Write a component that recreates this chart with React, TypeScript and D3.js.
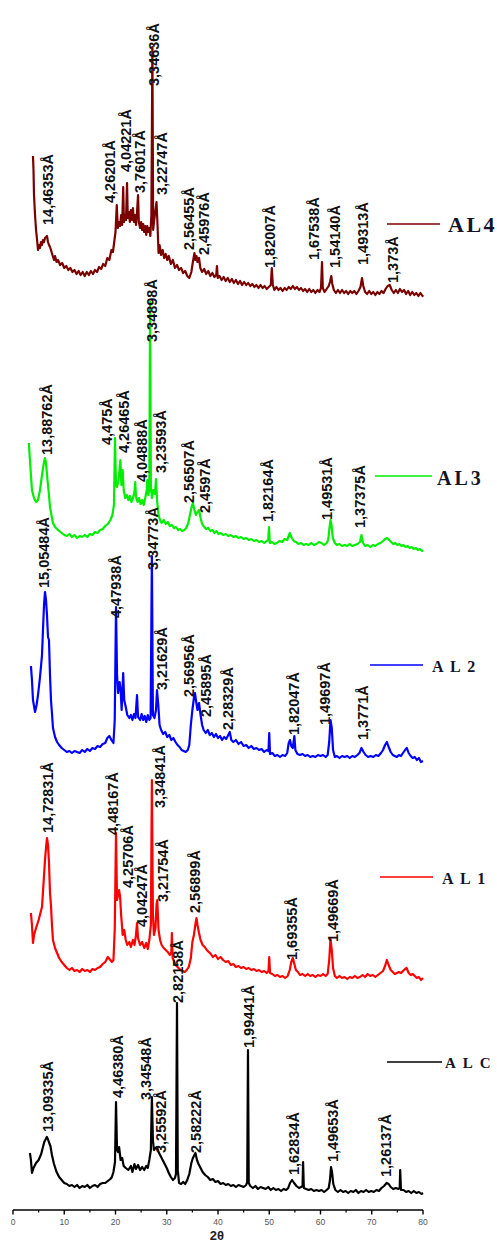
import React from "react";
import * as d3 from "d3";

type P = [number, number];
type L = [string, number, number];

const SERIES_NAMES = ["ALC", "AL1", "AL2", "AL3", "AL4"];
const SERIES_OFFSETS = [0, 220, 440, 650, 905];
const SERIES_COLORS = ["#000000", "#ff0000", "#0000ff", "#00ee00", "#7b0000"];
const X_TICKS = [0, 10, 20, 30, 40, 50, 60, 70, 80];
const X_MINOR = [5, 15, 25, 35, 45, 55, 65, 75];

const ALC: P[] = [[3.3,57],[3.5,50],[3.7,37],[4.0,42],[4.5,47],[5.0,50],[5.5,56],[5.8,62],[6.1,68],[6.4,71],[6.6,73],[6.8,71],[7.0,68],[7.3,64],[7.6,55],[8.0,46],[8.5,38],[9.0,33],[9.5,30],[10,27],[10.5,26],[11,24],[11.5,25],[12,23],[12.5,25],[13,22],[13.5,24],[14,23],[14.5,25],[15,22],[15.5,24],[16,25],[16.5,23],[17,26],[17.5,27],[18,27],[18.5,29],[19,31],[19.3,33],[19.6,38],[19.9,48],[20.1,108],[20.3,60],[20.5,58],[20.7,63],[21.0,50],[21.3,52],[21.6,44],[22.0,42],[22.5,40],[23.0,44],[23.3,38],[23.7,46],[24.0,41],[24.4,45],[24.8,40],[25.2,43],[25.6,40],[26.0,44],[26.3,42],[26.6,50],[26.9,60],[27.1,113],[27.3,70],[27.5,60],[27.8,62],[28.1,63],[28.4,58],[28.8,54],[29.2,50],[29.6,46],[30.0,42],[30.4,37],[30.8,33],[31.2,30],[31.6,32],[31.8,36],[32.0,207],[32.15,40],[32.4,27],[32.8,26],[33.2,28],[33.6,26],[34.0,30],[34.4,36],[34.8,47],[35.1,52],[35.4,55],[35.6,57],[35.9,50],[36.2,46],[36.6,42],[37.0,38],[37.5,35],[38.0,33],[38.5,30],[39.0,31],[39.5,28],[40.0,29],[40.5,26],[41,27],[41.5,25],[42,26],[42.5,24],[43,25],[43.5,23],[44,25],[44.5,24],[45,23],[45.5,25],[45.7,28],[45.85,160],[46.0,27],[46.3,24],[46.8,22],[47.3,24],[47.8,21],[48.3,23],[48.8,22],[49.3,21],[49.8,23],[50.3,20],[50.8,22],[51.3,20],[51.8,21],[52.3,19],[52.8,21],[53.3,20],[53.7,22],[54.05,27],[54.45,30],[54.85,27],[55.3,24],[55.8,22],[56.2,23],[56.5,24],[56.6,48],[56.75,22],[57.2,21],[57.7,20],[58.2,21],[58.7,19],[59.2,20],[59.7,19],[60.2,20],[60.7,18],[61.2,20],[61.6,22],[61.85,30],[62.05,43],[62.25,38],[62.5,26],[62.9,20],[63.4,18],[63.9,20],[64.4,18],[64.9,19],[65.4,17],[65.9,19],[66.4,18],[66.9,20],[67.4,17],[67.9,19],[68.4,18],[68.9,20],[69.4,18],[69.9,19],[70.4,18],[70.9,20],[71.4,19],[71.9,22],[72.4,24],[72.9,27],[73.3,26],[73.7,23],[74.2,21],[74.7,22],[75.2,21],[75.45,22],[75.55,40],[75.7,20],[76.2,20],[76.7,18],[77.2,19],[77.7,17],[78.2,19],[78.7,17],[79.2,18],[79.7,16],[80.0,17]];

const AL1: P[] = [[3.5,77],[3.7,65],[3.9,47],[4.1,55],[4.5,62],[5.0,70],[5.5,80],[5.66,83],[6.0,110],[6.24,130],[6.44,142],[6.63,152],[6.83,145],[7.02,128],[7.22,97],[7.41,85],[7.6,65],[7.8,50],[8.2,42],[8.6,37],[9.0,32],[9.5,28],[10,25],[10.5,22],[11,20],[11.5,22],[12,19],[12.5,20],[13,18],[13.5,21],[14,19],[14.5,20],[15,18],[15.5,21],[16,20],[16.5,22],[17,23],[17.5,26],[18,28],[18.5,33],[19,30],[19.3,28],[19.6,30],[19.85,60],[20.1,157],[20.3,90],[20.5,95],[20.7,100],[20.9,93],[21.1,75],[21.4,55],[21.7,60],[22.0,50],[22.3,45],[22.7,48],[23.0,43],[23.4,50],[23.7,45],[24.0,55],[24.2,67],[24.4,52],[24.8,45],[25.2,48],[25.6,42],[26.0,47],[26.3,41],[26.6,50],[26.9,65],[27.1,210],[27.3,75],[27.5,55],[27.8,62],[28.0,85],[28.15,90],[28.4,60],[28.7,50],[29.0,45],[29.4,42],[29.8,40],[30.2,38],[30.6,35],[30.9,38],[31.0,57],[31.15,32],[31.5,28],[31.9,24],[32.3,22],[32.7,20],[33.1,19],[33.5,18],[33.9,20],[34.3,23],[34.7,32],[35.0,48],[35.3,55],[35.6,66],[35.8,72],[36.0,65],[36.3,57],[36.6,50],[37.0,45],[37.4,43],[37.8,40],[38.2,38],[38.6,36],[39.0,33],[39.5,35],[40.0,31],[40.5,33],[41,30],[41.5,28],[42,29],[42.5,25],[43,26],[43.5,23],[44,24],[44.5,22],[45,23],[45.5,21],[46,22],[46.5,20],[47,21],[47.5,19],[48,20],[48.5,18],[49,19],[49.5,17],[49.85,19],[50.0,33],[50.15,17],[50.6,16],[51.1,14],[51.6,15],[52.1,13],[52.6,14],[53.1,12],[53.6,14],[54.0,20],[54.3,28],[54.6,32],[54.9,26],[55.2,20],[55.6,18],[56,15],[56.5,16],[57,14],[57.5,16],[58,14],[58.5,15],[59,13],[59.5,15],[60,14],[60.5,16],[61,14],[61.4,16],[61.7,30],[61.95,51],[62.2,40],[62.45,22],[62.8,14],[63.2,12],[63.7,14],[64.2,12],[64.7,13],[65.2,11],[65.7,13],[66.2,12],[66.7,14],[67.2,12],[67.7,13],[68.2,15],[68.7,13],[69.2,16],[69.7,14],[70.2,15],[70.7,13],[71.2,15],[71.7,17],[72.2,19],[72.6,24],[72.95,30],[73.3,25],[73.7,20],[74.1,18],[74.5,16],[74.9,17],[75.3,18],[75.7,17],[76.1,19],[76.5,21],[76.8,22],[77.2,17],[77.6,15],[78.0,16],[78.4,14],[78.8,12],[79.2,13],[79.6,10],[80.0,12]];

const AL2: P[] = [[3.5,104],[3.7,90],[3.9,70],[4.3,58],[4.6,65],[4.88,75],[5.27,93],[5.66,115],[5.85,140],[6.05,165],[6.24,178],[6.44,170],[6.63,155],[6.83,133],[7.02,130],[7.22,95],[7.41,70],[7.6,57],[7.8,42],[8.2,33],[8.6,28],[9.0,25],[9.5,22],[10,20],[10.5,18],[11,19],[11.5,17],[12,19],[12.5,18],[13,17],[13.5,20],[14,18],[14.5,21],[15,19],[15.5,22],[16,21],[16.5,24],[17,23],[17.5,26],[18,27],[18.4,32],[18.8,34],[19.2,30],[19.6,27],[19.85,50],[20.1,163],[20.3,95],[20.5,77],[20.8,88],[21.0,80],[21.2,60],[21.5,97],[21.7,70],[22.0,63],[22.3,55],[22.7,52],[23.0,55],[23.3,50],[23.6,56],[23.9,52],[24.2,75],[24.4,53],[24.8,50],[25.1,56],[25.4,50],[25.7,54],[26.0,48],[26.3,55],[26.6,50],[26.85,52],[27.1,214],[27.3,55],[27.6,52],[27.9,60],[28.1,80],[28.35,65],[28.6,45],[28.9,40],[29.3,36],[29.7,38],[30.1,33],[30.5,35],[30.9,30],[31.3,32],[31.7,28],[32.1,25],[32.5,23],[32.9,20],[33.3,19],[33.7,18],[34.1,20],[34.4,25],[34.7,45],[35.0,60],[35.3,72],[35.5,77],[35.75,68],[36.0,60],[36.3,67],[36.6,55],[36.9,45],[37.2,40],[37.6,37],[38.0,40],[38.4,35],[38.8,37],[39.2,33],[39.6,36],[40.0,32],[40.4,34],[40.8,30],[41.2,33],[41.6,31],[42.0,35],[42.3,38],[42.6,30],[43.0,28],[43.5,30],[44.0,26],[44.5,28],[45.0,24],[45.5,25],[46.0,22],[46.5,24],[47.0,21],[47.5,22],[48.0,20],[48.5,21],[49.0,18],[49.5,20],[49.85,19],[50.0,37],[50.15,16],[50.6,17],[51.1,14],[51.6,15],[52.1,13],[52.6,15],[53.1,14],[53.5,17],[53.8,27],[54.05,30],[54.3,24],[54.6,22],[54.9,34],[55.1,20],[55.5,16],[56,15],[56.5,16],[57,14],[57.5,15],[58,13],[58.5,14],[59,13],[59.5,15],[60,14],[60.5,15],[61,13],[61.4,15],[61.7,28],[61.95,50],[62.2,42],[62.45,20],[62.8,13],[63.2,14],[63.7,12],[64.2,14],[64.7,13],[65.2,14],[65.7,12],[66.2,14],[66.7,13],[67.2,15],[67.6,17],[68.0,22],[68.4,18],[68.8,15],[69.3,13],[69.8,14],[70.3,13],[70.8,15],[71.3,14],[71.8,17],[72.2,20],[72.6,25],[72.95,28],[73.3,23],[73.7,18],[74.1,15],[74.5,14],[74.9,13],[75.3,15],[75.7,14],[76.1,17],[76.5,20],[76.85,22],[77.2,17],[77.6,14],[78.0,12],[78.4,13],[78.8,10],[79.2,12],[79.6,8],[80.0,9]];

const AL3: P[] = [[3.1,117],[3.3,100],[3.5,85],[3.7,70],[4.1,62],[4.5,58],[4.88,60],[5.27,70],[5.66,85],[6.05,98],[6.24,102],[6.44,97],[6.73,80],[7.02,65],[7.22,53],[7.5,45],[7.8,37],[8.2,33],[8.8,30],[9.5,27],[10,25],[10.5,24],[11,26],[11.5,23],[12,25],[12.5,22],[13,24],[13.5,23],[14,25],[14.5,23],[15,26],[15.5,25],[16,28],[16.5,27],[17,30],[17.5,31],[18,34],[18.5,36],[19,40],[19.4,45],[19.7,55],[19.9,122],[20.1,75],[20.3,73],[20.6,80],[20.95,100],[21.15,75],[21.4,90],[21.6,70],[21.9,62],[22.2,65],[22.5,60],[22.8,64],[23.1,58],[23.4,62],[23.7,68],[23.85,78],[24.0,63],[24.3,58],[24.6,62],[24.9,56],[25.2,60],[25.5,55],[25.8,62],[26.1,70],[26.2,80],[26.4,65],[26.6,70],[26.75,258],[26.9,75],[27.1,62],[27.4,70],[27.7,66],[27.9,81],[28.1,60],[28.4,45],[28.7,40],[29.0,37],[29.4,40],[29.8,36],[30.2,38],[30.6,34],[31.0,35],[31.4,32],[31.8,33],[32.2,30],[32.6,31],[33.0,29],[33.4,30],[33.8,32],[34.2,37],[34.6,47],[34.9,54],[35.1,57],[35.4,50],[35.7,45],[36.0,48],[36.3,50],[36.6,42],[36.9,36],[37.3,33],[37.7,31],[38.1,32],[38.5,29],[38.9,30],[39.3,27],[39.7,29],[40.1,26],[40.5,27],[41,25],[41.5,26],[42,24],[42.5,25],[43,23],[43.5,24],[44,22],[44.5,23],[45,21],[45.5,22],[46,20],[46.5,21],[47,19],[47.5,20],[48,18],[48.5,19],[49,17],[49.5,19],[49.8,20],[49.95,33],[50.1,17],[50.5,18],[51,16],[51.5,17],[52,19],[52.5,18],[53,21],[53.5,20],[54,27],[54.4,22],[54.8,19],[55.2,18],[55.7,16],[56.2,17],[56.7,15],[57.2,16],[57.7,15],[58.2,17],[58.7,15],[59.2,16],[59.7,18],[60.2,17],[60.7,15],[61.2,17],[61.5,20],[61.75,32],[61.95,40],[62.15,35],[62.4,22],[62.8,17],[63.2,15],[63.7,16],[64.2,14],[64.7,15],[65.2,14],[65.7,16],[66.2,14],[66.7,15],[67.2,16],[67.7,18],[68.0,25],[68.3,17],[68.7,14],[69.2,15],[69.7,13],[70.2,15],[70.7,14],[71.2,16],[71.7,17],[72.2,19],[72.6,21],[73.0,22],[73.4,20],[73.8,18],[74.2,16],[74.6,17],[75.0,15],[75.4,16],[75.8,14],[76.2,15],[76.6,13],[77.0,14],[77.4,12],[77.8,13],[78.2,11],[78.6,12],[79.0,10],[79.4,11],[79.8,9],[80,10]];

const AL4: P[] = [[3.9,149],[4.0,135],[4.1,110],[4.3,90],[4.5,75],[4.7,65],[4.88,55],[5.07,60],[5.27,57],[5.46,63],[5.66,60],[5.85,65],[6.05,63],[6.24,67],[6.44,68],[6.63,69],[6.83,63],[7.02,60],[7.22,58],[7.41,55],[7.7,50],[8.0,45],[8.2,49],[8.5,43],[8.8,45],[9.2,40],[9.6,42],[10.0,37],[10.4,39],[10.8,35],[11.2,37],[11.6,33],[12.0,35],[12.4,31],[12.8,34],[13.2,30],[13.6,33],[14.0,29],[14.4,33],[14.8,30],[15.2,34],[15.6,31],[16.0,35],[16.4,33],[16.8,38],[17.2,36],[17.6,41],[18.0,39],[18.4,47],[18.8,45],[19.2,55],[19.5,53],[19.8,65],[20.0,73],[20.25,100],[20.45,77],[20.7,83],[20.9,79],[21.1,90],[21.3,80],[21.5,118],[21.65,83],[21.85,90],[22.05,85],[22.25,122],[22.4,87],[22.6,93],[22.8,83],[23.0,95],[23.2,85],[23.4,97],[23.6,83],[23.8,90],[24.0,80],[24.2,93],[24.4,110],[24.55,83],[24.8,77],[25.0,83],[25.2,75],[25.4,81],[25.6,73],[25.8,79],[26.0,70],[26.2,79],[26.4,73],[26.6,77],[26.8,69],[27.0,90],[27.2,258],[27.35,75],[27.55,85],[27.8,95],[28.0,103],[28.2,80],[28.4,52],[28.6,60],[28.9,50],[29.2,55],[29.5,47],[29.8,51],[30.1,45],[30.4,49],[30.8,41],[31.2,45],[31.6,37],[32.0,40],[32.4,35],[32.8,37],[33.2,32],[33.6,34],[34.0,29],[34.4,27],[34.8,33],[35.1,43],[35.4,52],[35.6,45],[35.8,49],[36.0,43],[36.3,47],[36.55,37],[36.9,33],[37.3,36],[37.7,31],[38.1,34],[38.5,29],[38.9,32],[39.3,28],[39.65,30],[39.8,39],[39.95,27],[40.3,29],[40.7,25],[41.1,28],[41.5,24],[41.9,27],[42.3,23],[42.7,26],[43.1,22],[43.5,25],[43.9,21],[44.3,24],[44.7,20],[45.1,23],[45.5,20],[45.9,22],[46.3,19],[46.7,21],[47.1,18],[47.5,20],[47.9,17],[48.3,20],[48.7,17],[49.1,19],[49.5,16],[49.9,18],[50.3,20],[50.5,37],[50.7,20],[51.0,15],[51.4,18],[51.8,15],[52.2,17],[52.6,14],[53.0,17],[53.4,15],[53.8,18],[54.2,16],[54.6,19],[55.0,16],[55.4,18],[55.8,15],[56.2,17],[56.6,14],[57.0,16],[57.4,13],[57.8,16],[58.2,13],[58.6,15],[59.0,12],[59.4,15],[59.8,13],[60.1,17],[60.3,43],[60.45,17],[60.8,13],[61.2,16],[61.6,19],[61.85,23],[62.1,29],[62.3,21],[62.6,15],[63.0,12],[63.4,15],[63.8,12],[64.2,15],[64.6,12],[65.0,14],[65.4,11],[65.8,14],[66.2,12],[66.6,14],[67.0,11],[67.4,14],[67.8,18],[68.1,27],[68.35,19],[68.7,13],[69.1,11],[69.5,14],[69.9,11],[70.3,13],[70.7,10],[71.1,13],[71.5,11],[71.9,14],[72.3,12],[72.7,16],[73.1,19],[73.5,20],[73.9,15],[74.3,12],[74.7,15],[75.1,12],[75.5,16],[75.9,13],[76.3,15],[76.7,11],[77.1,14],[77.5,10],[77.9,13],[78.3,10],[78.7,12],[79.1,9],[79.5,12],[79.9,9],[80.0,10]];

const SERIES_DATA: P[][] = [ALC, AL1, AL2, AL3, AL4];

const LABELS_ALC: L[] = [["13,09335Å",6.83,78],["4,46380Å",20.49,112],["3,34548Å",25.95,110],["3,25592Å",28.88,57],["2,82158Å",32.2,207],["2,58222Å",35.71,57],["1,99441Å",46.05,162],["1,62834Å",54.83,35],["1,49653Å",62.44,48],["1,26137Å",72.78,33]];
const LABELS_AL1: L[] = [["14,72831Å",6.83,157],["4,48167Å",19.51,155],["3,34841Å",28.68,182],["4,25706Å",22.44,102],["4,04247Å",25.17,63],["3,21754Å",29.27,88],["2,56899Å",35.51,77],["1,69355Å",54.44,30],["1,49669Å",62.44,48]];
const LABELS_AL2: L[] = [["15,05484Å",6.05,182],["4,47938Å",20.1,152],["3,34773Å",27.32,200],["3,21629Å",29.07,80],["2,56956Å",34.34,73],["2,45895Å",37.66,53],["2,28329Å",41.95,40],["1,82047Å",54.83,35],["1,49697Å",60.88,45],["1,3771Å",68.29,30]];
const LABELS_AL3: L[] = [["13,88762Å",6.63,105],["4,475Å",18.34,115],["4,26465Å",21.66,107],["4,04888Å",25.17,78],["3,34898Å",27.02,218],["3,23593Å",28.88,87],["2,56507Å",34.34,57],["2,4597Å",37.46,47],["1,82164Å",49.76,38],["1,49531Å",61.27,40],["1,37375Å",67.71,32]];
const LABELS_AL4: L[] = [["14,46353Å",6.83,80],["4,26201Å",18.93,102],["4,04221Å",22.05,133],["3,76017Å",24.78,112],["3,34636Å",27.51,219],["3,22747Å",29.07,110],["2,56455Å",34.34,55],["2,45976Å",37.27,50],["1,82007Å",50.15,37],["1,67538Å",58.73,45],["1,54140Å",62.83,37],["1,49313Å",68.29,40],["1,373Å",74.15,22]];
const SERIES_LABELS: L[][] = [LABELS_ALC, LABELS_AL1, LABELS_AL2, LABELS_AL3, LABELS_AL4];

// legend layout: [lineX1, lineX2, lineY, textX, textBaseline, fontSize, letterSpacing]
const LEGEND_LAYOUT: number[][] = [
  [387, 442, 1062, 445, 1068, 15, 7],
  [380, 433, 877, 442, 884, 16, 6.5],
  [370, 423, 665, 432, 672, 16, 6.5],
  [375, 432, 476, 437, 485, 20, 3],
  [387, 440, 224, 448, 232, 22, 2.5],
];

export default function App() {
  const W = 497, H = 1245;
  const x = d3.scaleLinear().domain([0, 80]).range([13, 423]);
  const y = d3.scaleLinear().domain([0, 1200]).range([1210, 10]);
  const axisY = y(0);

  return (
    <svg width={W} height={H} style={{ position: "absolute", left: 0, top: 0, background: "#fff" }}>
      <rect x={0} y={0} width={W} height={H} fill="#fff" />
      {SERIES_DATA.map((data, i) => {
        const off = SERIES_OFFSETS[i];
        const line = d3.line<P>().x(d => x(d[0])).y(d => y(d[1] + off));
        return (
          <path key={SERIES_NAMES[i]} d={line(data) || ""} fill="none" stroke={SERIES_COLORS[i]} strokeWidth={2.2} strokeLinejoin="round" />
        );
      })}
      {SERIES_LABELS.map((labels, i) =>
        labels.map((lb, j) => (
          <text key={`${i}-${j}`} transform={`translate(${x(lb[1]) + 5.3},${y(lb[2] + SERIES_OFFSETS[i])}) rotate(-90)`}
            fontFamily="'Liberation Sans', Arial, sans-serif" fontWeight="bold" fontSize={14.5} fill="#111">
            {lb[0]}
          </text>
        ))
      )}
      {SERIES_NAMES.map((nm, i) => {
        const [lx1, lx2, ly, tx, ty, fs, ls] = LEGEND_LAYOUT[i];
        return (
          <g key={"lg" + nm}>
            <line x1={lx1} x2={lx2} y1={ly} y2={ly} stroke={SERIES_COLORS[i]} strokeWidth={1.3} />
            <text x={tx} y={ty} fontFamily="'Liberation Serif', 'Times New Roman', serif" fontWeight="bold" fontSize={fs} letterSpacing={ls} fill="#141428">{nm}</text>
          </g>
        );
      })}
      <line x1={x(0)} x2={x(80)} y1={axisY} y2={axisY} stroke="#000" strokeWidth={1.6} />
      {X_TICKS.map(t => (
        <g key={"t" + t}>
          <line x1={x(t)} x2={x(t)} y1={axisY} y2={axisY + 4.5} stroke="#000" strokeWidth={1.4} />
          <text x={x(t)} y={axisY + 15} textAnchor="middle" fontFamily="'Liberation Sans', Arial, sans-serif" fontSize={8.5} fill="#555">{t}</text>
        </g>
      ))}
      {X_MINOR.map(t => (
        <line key={"m" + t} x1={x(t)} x2={x(t)} y1={axisY} y2={axisY + 2.5} stroke="#000" strokeWidth={1.2} />
      ))}
      <text x={x(40) - 1} y={1240} textAnchor="middle" fontFamily="'Liberation Sans', Arial, sans-serif" fontWeight="bold" fontSize={13} fill="#222">2θ</text>
    </svg>
  );
}
